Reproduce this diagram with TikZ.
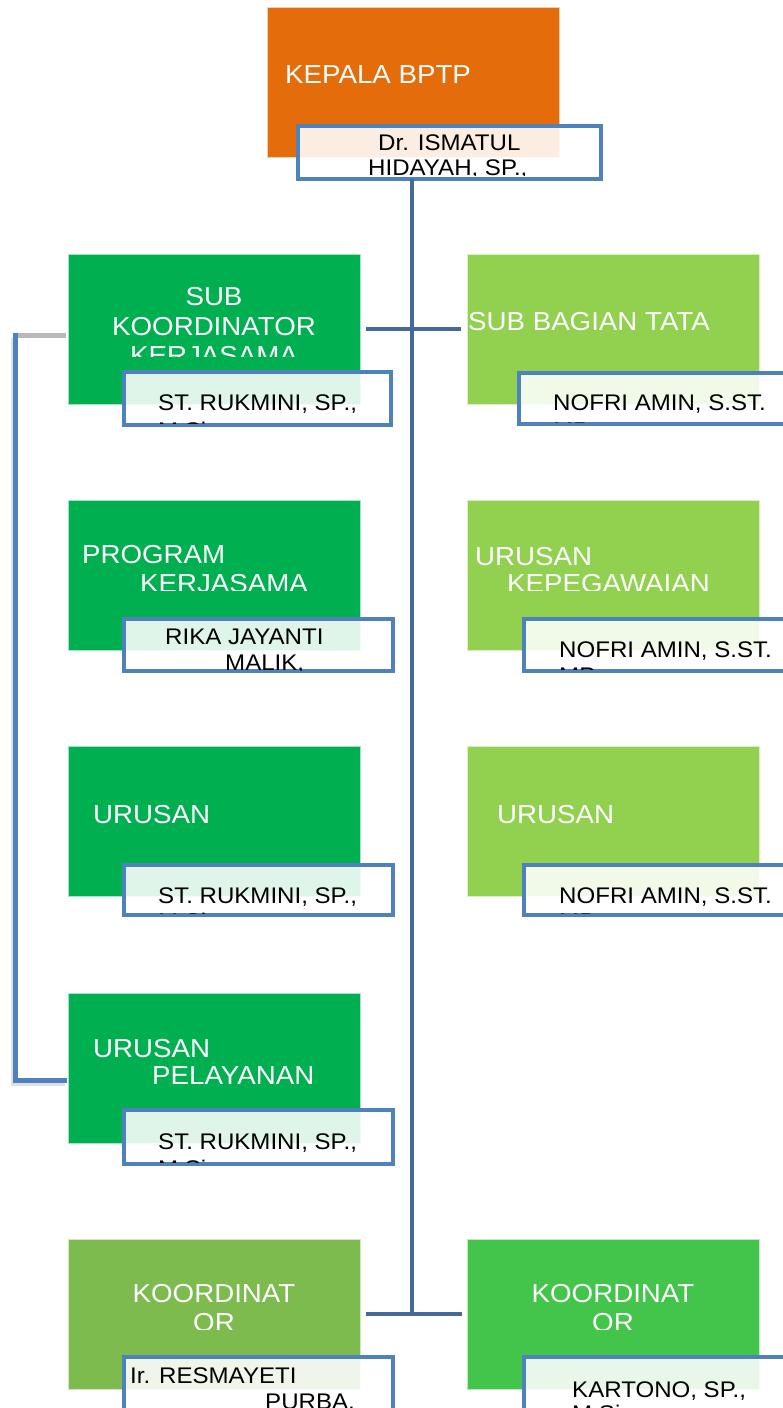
\documentclass[tikz,border=0pt]{standalone}
\usepackage{fontspec}
\setmainfont{Liberation Sans}
\newfontfamily\bfnt{Liberation Sans}[FakeStretch=1.065]
\definecolor{orangeb}{HTML}{E46C0A}
\definecolor{greenA}{HTML}{00B050}
\definecolor{greenB}{HTML}{92D050}
\definecolor{greenC}{HTML}{7DBB4F}
\definecolor{greenD}{HTML}{42C54A}
\definecolor{namebl}{HTML}{4F81BD}
\definecolor{trunkc}{HTML}{46699B}
\begin{document}
\begin{tikzpicture}[x=1pt,y=-1pt,
  unit/.style={anchor=north west, inner sep=0pt, outer sep=0pt, minimum width=292pt, minimum height=150pt, draw=white!65!#1, line width=0.8pt, fill=#1},
  namebox/.style={anchor=north west, inner sep=0pt, outer sep=0pt, draw=namebl, line width=4pt, fill=white, fill opacity=0.88},
  ttl/.style={anchor=base west, inner sep=0pt, text=white, font=\bfnt\fontsize{26}{30}\selectfont},
  ttlc/.style={ttl, anchor=base},
  nm/.style={anchor=base west, inner sep=0pt, text=black, font=\bfnt\fontsize{22.6}{26}\selectfont},
  link/.style={draw=trunkc, line width=4.5pt}]
\clip (0,0) rectangle (783,1408);

% ---------- unit boxes ----------
\node[unit=orangeb] (kepala) at (267,7) {};
\node[unit=greenA] (b1) at (68,254) {};
\node[unit=greenA] (b2) at (68,500) {};
\node[unit=greenA] (b3) at (68,746) {};
\node[unit=greenA] (b4) at (68,993) {};
\node[unit=greenC] (b5) at (68,1239) {};
\node[unit=greenB] (r1) at (467,254) {};
\node[unit=greenB] (r2) at (467,500) {};
\node[unit=greenB] (r3) at (467,746) {};
\node[unit=greenD] (r5) at (467,1239) {};

% ---------- unit titles ----------
\node[ttl] (t0) at (285,83) {KEPALA BPTP};
\begin{scope}
\clip (68,254) rectangle (360,356);
\node[ttlc] (t1a) at (214,305) {SUB};
\node[ttlc] (t1b) at (214,335) {KOORDINATOR};
\node[ttlc] (t1c) at (214,364) {KERJASAMA};
\end{scope}
\begin{scope}
\clip (68,500) rectangle (360,590);
\node[ttl] (t2a) at (82,563) {PROGRAM};
\node[ttl] (t2b) at (140,592) {KERJASAMA};
\end{scope}
\node[ttl] (t3a) at (93,823) {URUSAN};
\begin{scope}
\clip (68,993) rectangle (360,1083);
\node[ttl] (t4a) at (93,1057) {URUSAN};
\node[ttl] (t4b) at (152,1084) {PELAYANAN};
\end{scope}
\begin{scope}
\clip (68,1239) rectangle (360,1329);
\node[ttlc] (t5a) at (214,1302) {KOORDINAT};
\node[ttlc] (t5b) at (214,1331) {OR};
\end{scope}
\begin{scope}
\clip (467,254) rectangle (759,356);
\node[ttl] (u1a) at (468,330) {SUB BAGIAN TATA};
\end{scope}
\begin{scope}
\clip (467,500) rectangle (759,590);
\node[ttl] (u2a) at (475,565) {URUSAN};
\node[ttl] (u2b) at (507,592) {KEPEGAWAIAN};
\end{scope}
\node[ttl] (u3a) at (497,823) {URUSAN};
\begin{scope}
\clip (467,1239) rectangle (759,1329);
\node[ttlc] (u5a) at (613,1302) {KOORDINAT};
\node[ttlc] (u5b) at (613,1331) {OR};
\end{scope}

% ---------- name boxes ----------
\node[namebox, minimum width=303pt, minimum height=53pt] (kn) at (298,126) {};
\node[namebox, minimum width=267pt, minimum height=53pt] (n1) at (124,372) {};
\node[namebox, minimum width=269pt, minimum height=52pt] (n2) at (124,619) {};
\node[namebox, minimum width=269pt, minimum height=50pt] (n3) at (124,865) {};
\node[namebox, minimum width=269pt, minimum height=54pt] (n4) at (124,1110) {};
\node[namebox, minimum width=269pt, minimum height=54pt] (n5) at (124,1357) {};
\node[namebox, minimum width=290pt, minimum height=51pt] (m1) at (519,373) {};
\node[namebox, minimum width=290pt, minimum height=52pt] (m2) at (524,619) {};
\node[namebox, minimum width=290pt, minimum height=50pt] (m3) at (524,865) {};
\node[namebox, minimum width=290pt, minimum height=54pt] (m5) at (524,1357) {};

% ---------- names ----------
\begin{scope}
\clip (300,128) rectangle (599,175.5);
\node[nm] (k0a) at (378,150) {Dr. ISMATUL};
\node[nm] (k0b) at (368,175) {HIDAYAH, SP.,};
\end{scope}
\begin{scope}
\clip (126,374) rectangle (389,423);
\node[nm] (k1a) at (158,410) {ST. RUKMINI, SP.,};
\node[nm] (k1b) at (158,438) {M.Si.};
\end{scope}
\begin{scope}
\clip (126,621) rectangle (391,670);
\node[nm] (k2a) at (165,644) {RIKA JAYANTI};
\node[nm] (k2b) at (225,670) {MALIK,};
\end{scope}
\begin{scope}
\clip (126,867) rectangle (391,913);
\node[nm] (k3a) at (158,903) {ST. RUKMINI, SP.,};
\node[nm] (k3b) at (158,929) {M.Si.};
\end{scope}
\begin{scope}
\clip (126,1112) rectangle (391,1162);
\node[nm] (k4a) at (158,1149) {ST. RUKMINI, SP.,};
\node[nm] (k4b) at (158,1176) {M.Si.};
\end{scope}
\begin{scope}
\clip (126,1359) rectangle (391,1409);
\node[nm] (k5a) at (130,1383) {Ir. RESMAYETI};
\node[nm] (k5b) at (265,1409) {PURBA,};
\end{scope}
\begin{scope}
\clip (521,375) rectangle (783,422);
\node[nm] (j1a) at (553,410) {NOFRI AMIN, S.ST.};
\node[nm] (j1b) at (553,438) {MP};
\end{scope}
\begin{scope}
\clip (526,621) rectangle (783,669);
\node[nm] (j2a) at (559,657) {NOFRI AMIN, S.ST.};
\node[nm] (j2b) at (559,683) {MP};
\end{scope}
\begin{scope}
\clip (526,867) rectangle (783,913);
\node[nm] (j3a) at (559,903) {NOFRI AMIN, S.ST.};
\node[nm] (j3b) at (559,929) {MP};
\end{scope}
\begin{scope}
\clip (526,1359) rectangle (783,1409);
\node[nm] (j5a) at (572,1397) {KARTONO, SP.,};
\node[nm] (j5b) at (572,1421) {M.Si.};
\end{scope}

% ---------- connectors ----------
\coordinate (tx) at (412,0);
\draw[link] (kn.south -| tx) -- (b5.east -| tx);
\draw[link] ([xshift=6pt]b1.east) -- ([xshift=-6pt]r1.west);
\draw[link] ([xshift=6pt]b5.east) -- ([xshift=-5pt]r5.west);

\coordinate (lx) at (15.5,0);
\coordinate (tp) at ([xshift=-2pt,yshift=-6pt]b1.west);
\coordinate (bp) at ([xshift=-1pt,yshift=-12pt]b4.west);
\draw[line width=5pt, black, opacity=0.12] ([xshift=-2pt,yshift=-3pt]tp -| lx) -- ([xshift=-2pt,yshift=-3pt]bp -| lx) -- ([xshift=-2pt,yshift=-3pt]bp);
\draw[line width=5pt, gray!55] (tp) -- (tp -| lx);
\draw[line width=5pt, namebl] ([yshift=2pt]tp -| lx) -- (bp -| lx) -- (bp);
\end{tikzpicture}
\end{document}
